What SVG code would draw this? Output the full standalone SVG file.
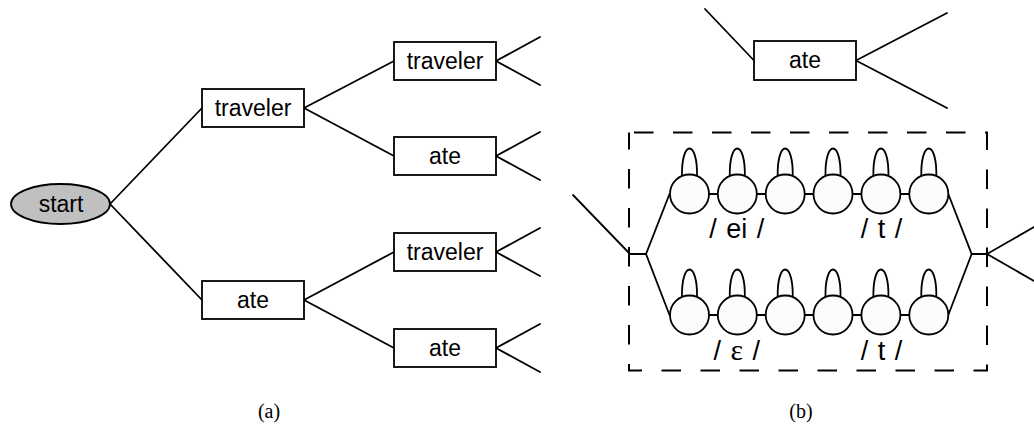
<svg xmlns="http://www.w3.org/2000/svg" width="1034" height="425" viewBox="0 0 1034 425">
  <style>
    .ln { stroke: #000; stroke-width: 1.8; fill: none; stroke-linecap: round; }
    .box { fill: #fff; stroke: #000; stroke-width: 1.8; }
    .st { fill: #fcfcfc; stroke: #000; stroke-width: 1.8; }
    .lbl { font-family: "Liberation Sans", Arial, sans-serif; font-size: 23px; text-anchor: middle; fill: #000; }
    .ph { font-family: "Liberation Sans", Arial, sans-serif; font-size: 27px; text-anchor: middle; word-spacing: 2px; fill: #000; }
    .eps { font-family: "Liberation Serif", "Times New Roman", serif; font-size: 30px; }
    .cap { font-family: "Liberation Serif", "Times New Roman", serif; font-size: 20px; text-anchor: middle; fill: #000; }
    .dash { fill: none; stroke: #000; stroke-width: 2; stroke-dasharray: 19.5 19.5; stroke-dashoffset: 34; }
  </style>
  <defs>
    <!-- HMM state: circle with a self-loop on top -->
    <g id="state">
      <path class="st" d="M-7.5,-17 C-8.5,-55 8.5,-55 7.5,-17"/>
      <circle class="st" cx="0" cy="0" r="19.5"/>
    </g>
  </defs>
  <rect width="1034" height="425" fill="#fff"/>

  <!-- (a) word tree connectors -->
  <g id="connectors-a">
    <line class="ln" x1="110" y1="204" x2="202" y2="108"/>
    <line class="ln" x1="110" y1="204" x2="202" y2="300"/>
    <line class="ln" x1="304" y1="108" x2="394" y2="61"/>
    <line class="ln" x1="304" y1="108" x2="394" y2="156"/>
    <line class="ln" x1="304" y1="300" x2="394" y2="252"/>
    <line class="ln" x1="304" y1="300" x2="394" y2="348"/>
    <line class="ln" x1="496" y1="61" x2="540" y2="37"/>
    <line class="ln" x1="496" y1="61" x2="540" y2="85"/>
    <line class="ln" x1="496" y1="156" x2="540" y2="132"/>
    <line class="ln" x1="496" y1="156" x2="540" y2="180"/>
    <line class="ln" x1="496" y1="252" x2="540" y2="228"/>
    <line class="ln" x1="496" y1="252" x2="540" y2="276"/>
    <line class="ln" x1="496" y1="348" x2="540" y2="324"/>
    <line class="ln" x1="496" y1="348" x2="540" y2="372"/>
  </g>

  <!-- (a) nodes -->
  <g id="start">
    <ellipse cx="60.5" cy="204" rx="49.5" ry="20" fill="#c0c0c0" stroke="#000" stroke-width="1.8"/>
    <text class="lbl" x="61" y="212">start</text>
  </g>
  <g id="w1-traveler">
    <rect class="box" x="202" y="89" width="102" height="38"/>
    <text class="lbl" x="253" y="116">traveler</text>
  </g>
  <g id="w1-ate">
    <rect class="box" x="202" y="281" width="102" height="38"/>
    <text class="lbl" x="253" y="308">ate</text>
  </g>
  <g id="w2-traveler-traveler">
    <rect class="box" x="394" y="42" width="102" height="38"/>
    <text class="lbl" x="445" y="69">traveler</text>
  </g>
  <g id="w2-traveler-ate">
    <rect class="box" x="394" y="137" width="102" height="38"/>
    <text class="lbl" x="445" y="164">ate</text>
  </g>
  <g id="w2-ate-traveler">
    <rect class="box" x="394" y="233" width="102" height="38"/>
    <text class="lbl" x="445" y="260">traveler</text>
  </g>
  <g id="w2-ate-ate">
    <rect class="box" x="394" y="329" width="102" height="38"/>
    <text class="lbl" x="445" y="356">ate</text>
  </g>
  <text class="cap" x="269" y="418">(a)</text>

  <!-- (b) expansion of the word "ate" into phone HMMs -->
  <g id="connectors-b">
    <line class="ln" x1="705" y1="9" x2="754" y2="60.5"/>
    <line class="ln" x1="856" y1="60.5" x2="947" y2="13"/>
    <line class="ln" x1="856" y1="60.5" x2="947" y2="108"/>
    <polyline class="ln" points="573,195 630,254 646,254 669.5,194"/>
    <line class="ln" x1="646" y1="254" x2="669.5" y2="315"/>
    <polyline class="ln" points="948.3,194 971.7,254 987,254"/>
    <line class="ln" x1="948.3" y1="315" x2="971.7" y2="254"/>
    <line class="ln" x1="987" y1="254" x2="1034" y2="227"/>
    <line class="ln" x1="987" y1="254" x2="1034" y2="281"/>
    <line class="ln" x1="689.5" y1="194" x2="928.8" y2="194"/>
    <line class="ln" x1="689.5" y1="315" x2="928.8" y2="315"/>
  </g>

  <g id="word-ate">
    <rect class="box" x="754" y="41" width="102" height="39"/>
    <text class="lbl" x="805" y="68">ate</text>
  </g>

  <path id="word-boundary" class="dash" d="M629,132.5 H987 V370.5 H629 Z"/>

  <g id="pron-ei-t">
    <use href="#state" x="689.5" y="194"/>
    <use href="#state" x="737.3" y="194"/>
    <use href="#state" x="785.2" y="194"/>
    <use href="#state" x="833" y="194"/>
    <use href="#state" x="880.9" y="194"/>
    <use href="#state" x="928.8" y="194"/>
    <text class="ph" x="736.7" y="238">/ ei /</text>
    <text class="ph" x="881.5" y="238">/ t /</text>
  </g>

  <g id="pron-eps-t">
    <use href="#state" x="689.5" y="315"/>
    <use href="#state" x="737.3" y="315"/>
    <use href="#state" x="785.2" y="315"/>
    <use href="#state" x="833" y="315"/>
    <use href="#state" x="880.9" y="315"/>
    <use href="#state" x="928.8" y="315"/>
    <text class="ph" x="736.7" y="360">/ <tspan class="eps">ε</tspan> /</text>
    <text class="ph" x="881.5" y="360">/ t /</text>
  </g>

  <text class="cap" x="801" y="418">(b)</text>
</svg>
